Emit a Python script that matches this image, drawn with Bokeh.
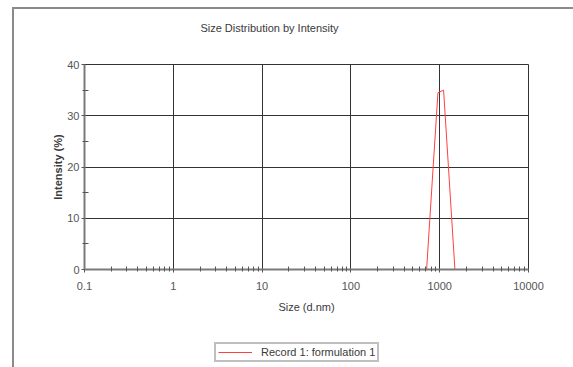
from bokeh.plotting import figure
from bokeh.layouts import column
from bokeh.models import (FixedTicker, PrintfTickFormatter, Legend, LegendItem,
                          ColumnDataSource, Label)
from bokeh.embed import file_html
from bokeh.resources import INLINE

# ---------------- data ----------------
size_nm = [0.4, 0.4632, 0.5365, 0.6213, 0.7195, 0.8332, 0.9649, 1.117, 1.294, 1.499,
           1.736, 2.010, 2.328, 2.696, 3.122, 3.615, 4.187, 4.849, 5.615, 6.503,
           7.531, 8.721, 10.10, 11.70, 13.54, 15.69, 18.17, 21.04, 24.36, 28.21,
           32.67, 37.84, 43.82, 50.75, 58.77, 68.06, 78.82, 91.28, 105.7, 122.4,
           141.8, 164.2, 190.1, 220.2, 255.0, 295.3, 342.0, 396.1, 458.7, 531.2,
           615.1, 712.4, 825.0, 955.4, 1106, 1281, 1484, 1718, 1990, 2305,
           2669, 3091, 3580, 4145, 4801, 5560, 6439, 7456, 8635, 10000]
intensity_pct = [0, 0, 0, 0, 0, 0, 0, 0, 0, 0,
                 0, 0, 0, 0, 0, 0, 0, 0, 0, 0,
                 0, 0, 0, 0, 0, 0, 0, 0, 0, 0,
                 0, 0, 0, 0, 0, 0, 0, 0, 0, 0,
                 0, 0, 0, 0, 0, 0, 0, 0, 0, 0,
                 0, 0, 17.3, 34.5, 35.0, 17.5, 0, 0, 0, 0,
                 0, 0, 0, 0, 0, 0, 0, 0, 0, 0]
x_major_ticks = [0.1, 1, 10, 100, 1000, 10000]
x_minor_ticks = [0.2, 0.3, 0.4, 0.5, 0.6, 0.7, 0.8, 0.9,
                 2, 3, 4, 5, 6, 7, 8, 9,
                 20, 30, 40, 50, 60, 70, 80, 90,
                 200, 300, 400, 500, 600, 700, 800, 900,
                 2000, 3000, 4000, 5000, 6000, 7000, 8000, 9000]
y_major_ticks = [0, 10, 20, 30, 40]
y_minor_ticks = [5, 15, 25, 35]
title_text = "Size Distribution by Intensity"
x_label = "Size (d.nm)"
y_label = "Intensity (%)"
series_label = "Record 1: formulation 1"

FONT = "Liberation Sans"
TXT = "#3a3a3a"
RED = "#ff4040"
W = 559

src = ColumnDataSource(dict(x=size_nm, y=intensity_pct))


def strip(h):
    f = figure(width=W, height=h, x_range=(0, 1), y_range=(100, 200),
               x_axis_location=None, y_axis_location=None,
               output_backend="svg", toolbar_location=None,
               min_border=0, min_border_left=0, min_border_right=0,
               min_border_top=0, min_border_bottom=0,
               background_fill_color="white", border_fill_color="white")
    f.grid.visible = False
    f.outline_line_color = None
    return f


# ---- title strip ----
p0 = strip(30)
p0.add_layout(Label(x=185, y=12, x_units="screen", y_units="screen",
                    text=title_text, text_align="center", text_baseline="middle",
                    text_font=FONT, text_font_size="11px", text_color=TXT))

# ---- main chart ----
p = figure(width=W, height=291, x_axis_type="log",
           x_range=(0.1, 10000), y_range=(0, 40),
           output_backend="svg", toolbar_location=None,
           min_border_left=70, min_border_right=45,
           min_border_top=25, min_border_bottom=61,
           background_fill_color="white", border_fill_color="white")
p.outline_line_color = "#333333"
p.outline_line_width = 1

r = p.line("x", "y", source=src, line_color=RED, line_width=1)

xa = p.xaxis[0]
xa.ticker = FixedTicker(ticks=x_major_ticks, minor_ticks=x_minor_ticks)
xa.formatter = PrintfTickFormatter(format="%g")
xa.axis_label = x_label
ya = p.yaxis[0]
ya.ticker = FixedTicker(ticks=y_major_ticks, minor_ticks=y_minor_ticks)
ya.axis_label = y_label

for ax in (xa, ya):
    ax.axis_line_color = "#7a7a7a"
    ax.axis_line_width = 2
    ax.major_tick_line_color = "#555555"
    ax.minor_tick_line_color = "#555555"
    ax.major_label_text_font = FONT
    ax.major_label_text_font_size = "11px"
    ax.major_label_text_color = "#555555"
    ax.axis_label_text_font = FONT
    ax.axis_label_text_font_size = "11px"
    ax.axis_label_text_color = TXT
    ax.axis_label_text_font_style = "normal"

xa.major_tick_in = 0
xa.major_tick_out = 3
xa.minor_tick_in = 3
xa.minor_tick_out = 2
xa.major_label_standoff = 9
xa.axis_label_standoff = 8

ya.major_tick_in = 0
ya.major_tick_out = 3
ya.minor_tick_in = 4
ya.minor_tick_out = 2
ya.major_label_standoff = 2
ya.axis_label_standoff = 0
ya.axis_label_text_font_style = "bold"

p.xgrid.ticker = FixedTicker(ticks=x_major_ticks)
p.ygrid.ticker = FixedTicker(ticks=y_major_ticks)
for g in (p.xgrid[0], p.ygrid[0]):
    g.grid_line_color = "#333333"
    g.grid_line_width = 1

# ---- legend strip below the chart ----
p2 = strip(37)
r2 = p2.line("x", "y", source=src, line_color=RED, line_width=1)
legend = Legend(items=[LegendItem(label=series_label, renderers=[r2])],
                location=(130, 5), orientation="horizontal",
                border_line_color="#808080", border_line_width=2,
                background_fill_color="white", background_fill_alpha=1,
                label_text_font=FONT, label_text_font_size="11px",
                label_text_color=TXT, glyph_width=34, glyph_height=12,
                padding=2, margin=0, spacing=0, label_standoff=9,
                label_height=11)
p2.add_layout(legend, "center")

layout = column(p0, p, p2, spacing=0,
                styles={"margin-left": "12px", "margin-top": "7px",
                        "border-left": "2px solid #8a8a8a",
                        "border-top": "2px solid #8a8a8a"})

open("out.html", "w").write(file_html(layout, INLINE))
